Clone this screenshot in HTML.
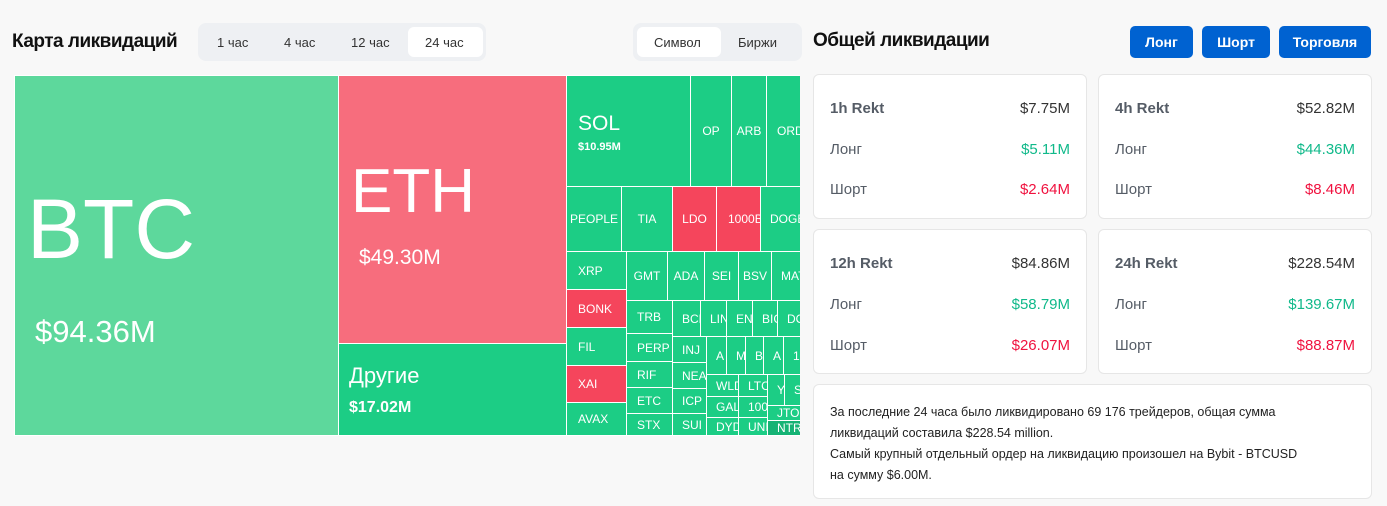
<!DOCTYPE html>
<html><head><meta charset="utf-8"><style>
body{margin:0;width:1387px;height:506px;background:#f8f8f8;font-family:"Liberation Sans",sans-serif;position:relative;overflow:hidden}
.a{position:absolute;box-sizing:border-box}
.c{position:absolute;box-sizing:border-box;border:1px solid #fff;background:#1ccd85;color:#fff;font-size:12px;display:flex;align-items:center;justify-content:center;overflow:hidden;white-space:nowrap}
.r{background:#f5455c}
.card{position:absolute;background:#fff;border:1px solid #e6e6e6;border-radius:6px;box-sizing:border-box;font-size:15px;color:#555c66}
.card div{position:absolute;left:16px;right:16px;display:flex;justify-content:space-between}
.g{color:#10b98a}.rd{color:#f0123f}
.btn{position:absolute;top:26px;height:32px;background:#0062d1;color:#fff;border-radius:5px;font-weight:bold;font-size:14px;display:flex;align-items:center;justify-content:center}
</style></head><body>
<div class="a" style="left:12px;top:31px;font-size:19px;font-weight:bold;color:#111;letter-spacing:-0.5px">Карта ликвидаций</div>
<div class="a" style="left:198px;top:23px;width:288px;height:38px;background:#eef0f3;border-radius:8px"></div>
<div class="a" style="left:408px;top:27px;width:75px;height:30px;background:#fff;border-radius:6px"></div>
<div class="a" style="left:217px;top:35px;font-size:13px;color:#333">1 час</div>
<div class="a" style="left:284px;top:35px;font-size:13px;color:#333">4 час</div>
<div class="a" style="left:351px;top:35px;font-size:13px;color:#333">12 час</div>
<div class="a" style="left:425px;top:35px;font-size:13px;color:#333">24 час</div>
<div class="a" style="left:633px;top:23px;width:169px;height:38px;background:#eef0f3;border-radius:8px"></div>
<div class="a" style="left:637px;top:27px;width:84px;height:30px;background:#fff;border-radius:6px"></div>
<div class="a" style="left:654px;top:35px;font-size:13px;color:#333">Символ</div>
<div class="a" style="left:738px;top:35px;font-size:13px;color:#333">Биржи</div>

<div class="c" style="left:14px;top:75px;width:325px;height:361px;background:#5dd89c;display:block">
<div class="a" style="left:12px;top:105px;font-size:84px">BTC</div>
<div class="a" style="left:20px;top:238px;font-size:31px">$94.36M</div></div>
<div class="c" style="left:338px;top:75px;width:229px;height:269px;background:#f76d7d;display:block">
<div class="a" style="left:12px;top:80px;font-size:62px">ETH</div>
<div class="a" style="left:20px;top:170px;font-size:21px">$49.30M</div></div>
<div class="c" style="left:338px;top:343px;width:229px;height:93px;display:block">
<div class="a" style="left:10px;top:19px;font-size:22px">Другие</div>
<div class="a" style="left:10px;top:55px;font-size:16px;font-weight:bold">$17.02M</div></div>
<div class="c" style="left:566px;top:75px;width:125px;height:112px;display:block">
<div class="a" style="left:11px;top:36px;font-size:21px">SOL</div>
<div class="a" style="left:11px;top:65px;font-size:11px;font-weight:bold">$10.95M</div></div>
<div class="c" style="left:690px;top:75px;width:42px;height:112px">OP</div>
<div class="c" style="left:731px;top:75px;width:36px;height:112px">ARB</div>
<div class="c" style="left:766px;top:75px;width:40px;height:112px;justify-content:flex-start;padding-left:10px">ORDI</div>
<div class="c" style="left:566px;top:186px;width:56px;height:66px">PEOPLE</div>
<div class="c" style="left:621px;top:186px;width:52px;height:66px">TIA</div>
<div class="c r" style="left:672px;top:186px;width:45px;height:66px">LDO</div>
<div class="c r" style="left:716px;top:186px;width:45px;height:66px;justify-content:flex-start;padding-left:11px">1000B</div>
<div class="c" style="left:760px;top:186px;width:46px;height:66px;justify-content:flex-start;padding-left:9px">DOGE</div>
<div class="c" style="left:566px;top:251px;width:61px;height:39px;justify-content:flex-start;padding-left:11px">XRP</div>
<div class="c r" style="left:566px;top:289px;width:61px;height:39px;justify-content:flex-start;padding-left:11px">BONK</div>
<div class="c" style="left:566px;top:327px;width:61px;height:39px;justify-content:flex-start;padding-left:11px">FIL</div>
<div class="c r" style="left:566px;top:365px;width:61px;height:38px;justify-content:flex-start;padding-left:11px">XAI</div>
<div class="c" style="left:566px;top:402px;width:61px;height:34px;justify-content:flex-start;padding-left:11px">AVAX</div>
<div class="c" style="left:626px;top:251px;width:42px;height:50px">GMT</div>
<div class="c" style="left:667px;top:251px;width:38px;height:50px">ADA</div>
<div class="c" style="left:704px;top:251px;width:35px;height:50px">SEI</div>
<div class="c" style="left:738px;top:251px;width:34px;height:50px">BSV</div>
<div class="c" style="left:771px;top:251px;width:35px;height:50px;justify-content:flex-start;padding-left:9px">MATIC</div>
<div class="c" style="left:626px;top:300px;width:47px;height:34px;justify-content:flex-start;padding-left:10px">TRB</div>
<div class="c" style="left:626px;top:333px;width:47px;height:29px;justify-content:flex-start;padding-left:10px">PERP</div>
<div class="c" style="left:626px;top:361px;width:47px;height:27px;justify-content:flex-start;padding-left:10px">RIF</div>
<div class="c" style="left:626px;top:387px;width:47px;height:27px;justify-content:flex-start;padding-left:10px">ETC</div>
<div class="c" style="left:626px;top:413px;width:47px;height:23px;justify-content:flex-start;padding-left:10px">STX</div>
<div class="c" style="left:672px;top:300px;width:29px;height:37px;justify-content:flex-start;padding-left:9px">BCH</div>
<div class="c" style="left:700px;top:300px;width:27px;height:37px;justify-content:flex-start;padding-left:9px">LINK</div>
<div class="c" style="left:726px;top:300px;width:27px;height:37px;justify-content:flex-start;padding-left:9px">ENS</div>
<div class="c" style="left:752px;top:300px;width:26px;height:37px;justify-content:flex-start;padding-left:9px">BIGT</div>
<div class="c" style="left:777px;top:300px;width:29px;height:37px;justify-content:flex-start;padding-left:9px">DOT</div>
<div class="c" style="left:672px;top:336px;width:35px;height:27px;justify-content:flex-start;padding-left:9px">INJ</div>
<div class="c" style="left:672px;top:362px;width:35px;height:27px;justify-content:flex-start;padding-left:9px">NEAR</div>
<div class="c" style="left:672px;top:388px;width:35px;height:26px;justify-content:flex-start;padding-left:9px">ICP</div>
<div class="c" style="left:672px;top:413px;width:35px;height:23px;justify-content:flex-start;padding-left:9px">SUI</div>
<div class="c" style="left:706px;top:336px;width:21px;height:39px;justify-content:flex-start;padding-left:9px">A</div>
<div class="c" style="left:726px;top:336px;width:20px;height:39px;justify-content:flex-start;padding-left:9px">M</div>
<div class="c" style="left:745px;top:336px;width:19px;height:39px;justify-content:flex-start;padding-left:9px">B</div>
<div class="c" style="left:763px;top:336px;width:21px;height:39px;justify-content:flex-start;padding-left:9px">A</div>
<div class="c" style="left:783px;top:336px;width:23px;height:39px;justify-content:flex-start;padding-left:9px">1</div>
<div class="c" style="left:706px;top:374px;width:33px;height:23px;justify-content:flex-start;padding-left:9px">WLD</div>
<div class="c" style="left:706px;top:396px;width:33px;height:22px;justify-content:flex-start;padding-left:9px">GAL</div>
<div class="c" style="left:706px;top:417px;width:33px;height:19px;justify-content:flex-start;padding-left:9px">DYDX</div>
<div class="c" style="left:738px;top:374px;width:30px;height:23px;justify-content:flex-start;padding-left:9px">LTC</div>
<div class="c" style="left:738px;top:396px;width:30px;height:22px;justify-content:flex-start;padding-left:9px">1000</div>
<div class="c" style="left:738px;top:417px;width:30px;height:19px;justify-content:flex-start;padding-left:9px">UNI</div>
<div class="c" style="left:767px;top:374px;width:18px;height:32px;justify-content:flex-start;padding-left:9px">Y</div>
<div class="c" style="left:784px;top:374px;width:22px;height:32px;justify-content:flex-start;padding-left:9px">S</div>
<div class="c" style="left:767px;top:405px;width:39px;height:16px;justify-content:flex-start;padding-left:9px">JTO</div>
<div class="c" style="left:767px;top:420px;width:39px;height:16px;justify-content:flex-start;padding-left:9px;background:#16b375">NTRN</div>
<div class="a" style="left:800px;top:70px;width:12px;height:370px;background:#f8f8f8"></div>

<div class="a" style="left:813px;top:30px;font-size:19px;font-weight:bold;color:#111;letter-spacing:-0.5px">Общей ликвидации</div>
<div class="btn" style="left:1130px;width:63px">Лонг</div>
<div class="btn" style="left:1202px;width:68px">Шорт</div>
<div class="btn" style="left:1279px;width:92px">Торговля</div>

<div class="card" style="left:813px;top:74px;width:274px;height:145px"><div style="top:25px"><b style="font-weight:bold">1h Rekt</b><span style="color:#333">$7.75M</span></div><div style="top:66px"><span>Лонг</span><span class="g">$5.11M</span></div><div style="top:106px"><span>Шорт</span><span class="rd">$2.64M</span></div></div>
<div class="card" style="left:1098px;top:74px;width:274px;height:145px"><div style="top:25px"><b>4h Rekt</b><span style="color:#333">$52.82M</span></div><div style="top:66px"><span>Лонг</span><span class="g">$44.36M</span></div><div style="top:106px"><span>Шорт</span><span class="rd">$8.46M</span></div></div>
<div class="card" style="left:813px;top:229px;width:274px;height:145px"><div style="top:25px"><b>12h Rekt</b><span style="color:#333">$84.86M</span></div><div style="top:66px"><span>Лонг</span><span class="g">$58.79M</span></div><div style="top:107px"><span>Шорт</span><span class="rd">$26.07M</span></div></div>
<div class="card" style="left:1098px;top:229px;width:274px;height:145px"><div style="top:25px"><b>24h Rekt</b><span style="color:#333">$228.54M</span></div><div style="top:66px"><span>Лонг</span><span class="g">$139.67M</span></div><div style="top:107px"><span>Шорт</span><span class="rd">$88.87M</span></div></div>
<div class="card" style="left:813px;top:384px;width:559px;height:115px;font-size:12.5px;color:#222;line-height:21px;padding:17px 16px;white-space:nowrap">За последние 24 часа было ликвидировано 69 176 трейдеров, общая сумма<br>ликвидаций составила $228.54 million.<br>Самый крупный отдельный ордер на ликвидацию произошел на Bybit - BTCUSD<br>на сумму $6.00M.</div>
</body></html>
